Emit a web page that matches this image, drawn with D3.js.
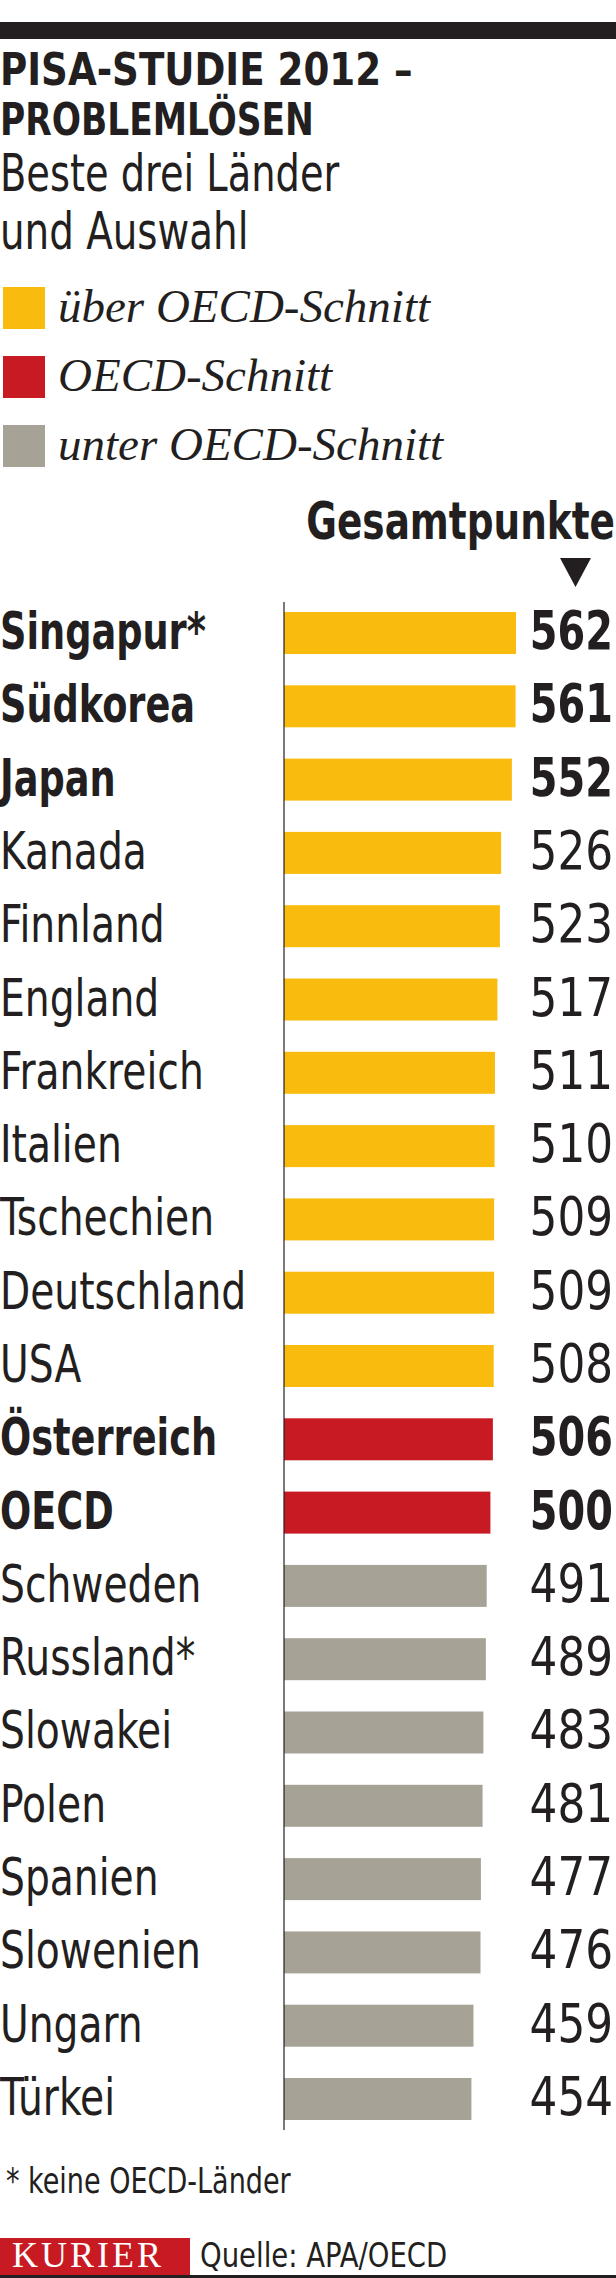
<!DOCTYPE html>
<html>
<head>
<meta charset="utf-8">
<script src="https://cdn.jsdelivr.net/npm/d3@7"></script>
<style>
  body { margin: 0; background: #fff; }
  svg { display: block; }
  .cond { font-family: "Liberation Sans Narrow", "DejaVu Sans Condensed", "Roboto", sans-serif; fill: #231f20; }
  .serif { font-family: "Liberation Serif", "DejaVu Serif", serif; }
</style>
</head>
<body>
<div id="chart"></div>
<script>
// data
const countries = ["Singapur*", "Südkorea", "Japan", "Kanada", "Finnland", "England", "Frankreich",
  "Italien", "Tschechien", "Deutschland", "USA", "Österreich", "OECD", "Schweden", "Russland*",
  "Slowakei", "Polen", "Spanien", "Slowenien", "Ungarn", "Türkei"]
const scores = [562, 561, 552, 526, 523, 517, 511, 510, 509, 509, 508, 506, 500, 491, 489, 483, 481, 477, 476, 459, 454]
// 0 = über, 1 = OECD-Schnitt, 2 = unter
const groups = [0, 0, 0, 0, 0, 0, 0, 0, 0, 0, 0, 1, 1, 2, 2, 2, 2, 2, 2, 2, 2]
const boldRows = ["Singapur*", "Südkorea", "Japan", "Österreich", "OECD"]
const legendLabels = ["über OECD-Schnitt", "OECD-Schnitt", "unter OECD-Schnitt"]
const groupColors = ["#f8bb0e", "#c81a22", "#a6a295"]

const width = 616, height = 2278

const svg = d3.select("#chart").append("svg")
    .attr("width", width)
    .attr("height", height)

// condensed text: squeeze the available sans horizontally (sx)
function condText(parent, x, y, txt, size, bold, sx, anchor) {
  var g = parent.append("g")
      .attr("transform", "translate(" + x + "," + y + ") scale(" + sx + ",1)")
  g.append("text")
      .attr("class", "cond")
      .attr("font-size", size)
      .attr("font-weight", bold ? "bold" : "normal")
      .attr("text-anchor", anchor || "start")
      .text(txt)
  return g
}

// top rule
svg.append("rect").attr("x", 0).attr("y", 22).attr("width", width).attr("height", 17).attr("fill", "#231f20")

// title + subtitle
condText(svg, 0, 85, "PISA-STUDIE 2012 –", 44, true, 0.94)
condText(svg, 0, 135, "PROBLEMLÖSEN", 44, true, 0.87)
condText(svg, 0, 191, "Beste drei Länder", 52, false, 0.82)
condText(svg, 0, 249, "und Auswahl", 52, false, 0.83)

// legend
var legend = svg.selectAll(".legend")
    .data(legendLabels)
    .enter()
    .append("g")
    .attr("class", "legend")
    .attr("transform", function (d, i) { return "translate(0," + (287 + i * 69) + ")" })
legend.append("rect")
    .attr("x", 3).attr("y", 0).attr("width", 42).attr("height", 42)
    .attr("fill", function (d, i) { return groupColors[i] })
legend.append("text")
    .attr("class", "serif")
    .attr("x", 58).attr("y", 35)
    .attr("font-size", 47).attr("font-style", "italic").attr("fill", "#231f20")
    .text(function (d) { return d })

// column header
condText(svg, 615, 539, "Gesamtpunkte", 52, true, 0.8, "end")
svg.append("path").attr("d", "M560,558 L591,558 L575.5,587 Z").attr("fill", "#231f20")

// scales
const x = d3.scaleLinear().domain([0, d3.max(scores)]).range([284, 516])
const y = d3.scaleBand().domain(countries).range([612, 2120]).paddingInner(0.427).paddingOuter(0)

const rows = countries.map(function (c, i) {
  return { name: c, value: scores[i], group: groups[i], bold: boldRows.indexOf(c) >= 0 }
})

svg.selectAll(".bar")
    .data(rows)
    .enter()
    .append("rect")
    .attr("class", "bar")
    .attr("x", x(0))
    .attr("y", function (d) { return y(d.name) })
    .attr("width", function (d) { return x(d.value) - x(0) })
    .attr("height", y.bandwidth())
    .attr("fill", function (d) { return groupColors[d.group] })

// axis line
svg.append("line")
    .attr("x1", x(0)).attr("x2", x(0))
    .attr("y1", 602).attr("y2", 2130)
    .attr("stroke", "#231f20").attr("stroke-width", 1.2)

rows.forEach(function (d) {
  var base = y(d.name) + y.bandwidth() / 2 + 16
  condText(svg, 0, base, d.name, 51, d.bold, d.bold ? 0.8 : 0.855)
  condText(svg, 613, base, d.value, 54, d.bold, d.bold ? 0.82 : 0.9, "end")
})

// footnote
condText(svg, 6, 2193, "* keine OECD-Länder", 36, false, 0.835)

// footer
svg.append("rect").attr("x", 0).attr("y", 2238).attr("width", 190).attr("height", 38).attr("fill", "#c81a22")
svg.append("text").attr("class", "serif").attr("x", 12).attr("y", 2267)
    .attr("font-size", 36).attr("letter-spacing", 3).attr("fill", "#fff").text("KURIER")
condText(svg, 200, 2267, "Quelle: APA/OECD", 34, false, 0.9)
svg.append("rect").attr("x", 0).attr("y", 2275).attr("width", width).attr("height", 3).attr("fill", "#231f20")
</script>
</body>
</html>
